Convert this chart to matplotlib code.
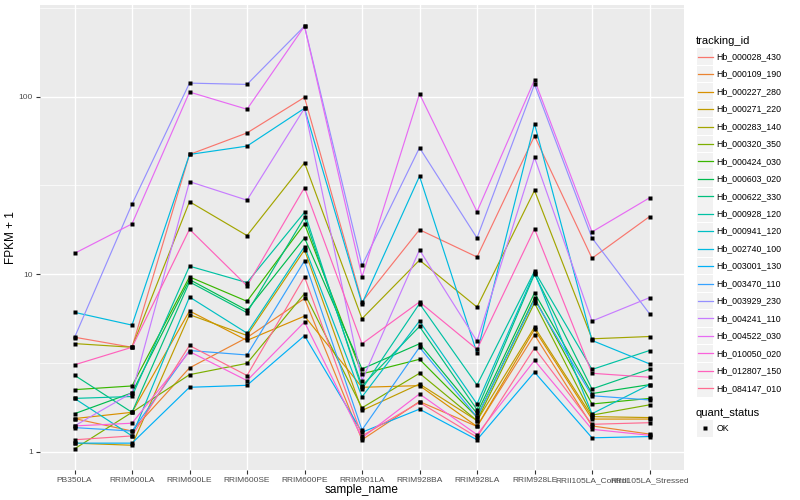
import numpy as np
import matplotlib.pyplot as plt
from matplotlib.lines import Line2D
from matplotlib.patches import Rectangle

plt.rcParams['font.family'] = ['Liberation Sans', 'DejaVu Sans']

samples = ['PB350LA', 'RRIM600LA', 'RRIM600LE', 'RRIM600SE', 'RRIM600PE',
           'RRIM901LA', 'RRIM928BA', 'RRIM928LA', 'RRIM928LE',
           'RRII105LA_Control', 'RRII105LA_Stressed']

tracking_ids = ['Hb_000028_430', 'Hb_000109_190', 'Hb_000227_280', 'Hb_000271_220',
                'Hb_000283_140', 'Hb_000320_350', 'Hb_000424_030', 'Hb_000603_020',
                'Hb_000622_330', 'Hb_000928_120', 'Hb_000941_120', 'Hb_002740_100',
                'Hb_003001_130', 'Hb_003470_110', 'Hb_003929_230', 'Hb_004241_110',
                'Hb_004522_030', 'Hb_010050_020', 'Hb_012807_150', 'Hb_084147_010']

# FPKM + 1 per sample
hb_000028_430 = [4.42, 3.88, 47.2, 62.4, 99.0, 6.98, 17.8, 12.5, 60.0, 12.3, 21.1]
hb_000109_190 = [1.54, 1.31, 2.97, 4.40, 7.30, 1.17, 1.92, 1.39, 4.56, 1.40, 1.26]
hb_000227_280 = [1.54, 1.67, 6.21, 4.24, 5.81, 2.31, 2.36, 1.39, 4.89, 1.53, 1.53]
hb_000271_220 = [1.12, 1.09, 5.92, 4.52, 13.7, 1.71, 2.41, 1.50, 5.04, 1.58, 1.56]
hb_000283_140 = [4.07, 3.88, 25.6, 16.5, 42.4, 5.62, 12.0, 6.53, 29.6, 4.33, 4.46]
hb_000320_350 = [1.04, 1.67, 2.72, 3.15, 7.78, 1.77, 2.77, 1.50, 6.89, 1.61, 1.84]
hb_000424_030 = [2.24, 2.35, 9.66, 7.04, 19.2, 2.75, 3.32, 1.57, 7.35, 1.86, 2.00]
hb_000603_020 = [1.64, 2.15, 9.33, 6.26, 16.0, 2.93, 4.06, 1.65, 7.85, 2.13, 2.39]
hb_000622_330 = [2.70, 1.67, 9.05, 6.08, 20.9, 2.35, 5.08, 1.73, 10.0, 2.26, 2.92]
hb_000928_120 = [2.00, 2.05, 11.1, 8.97, 22.3, 2.26, 6.83, 2.38, 10.4, 2.91, 3.72]
hb_000941_120 = [2.00, 1.23, 7.44, 4.66, 14.3, 2.04, 5.45, 1.86, 10.2, 1.64, 2.39]
hb_002740_100 = [6.10, 5.17, 47.2, 52.6, 85.9, 6.83, 35.6, 3.60, 70.3, 4.24, 3.13]
hb_003001_130 = [1.12, 1.12, 2.31, 2.37, 4.51, 1.29, 1.74, 1.17, 2.81, 1.20, 1.22]
hb_003470_110 = [1.37, 1.31, 3.72, 3.51, 11.9, 1.33, 3.88, 1.57, 7.19, 2.07, 1.96]
hb_003929_230 = [4.40, 24.8, 119.0, 117.0, 249.0, 11.2, 51.5, 16.0, 117.0, 16.0, 6.00]
hb_004241_110 = [1.40, 2.15, 33.2, 26.1, 85.9, 2.52, 13.7, 4.20, 45.4, 5.45, 7.38]
hb_004522_030 = [13.1, 19.2, 106.0, 84.8, 249.0, 9.66, 103.5, 22.5, 124.0, 17.3, 26.9]
hb_010050_020 = [1.40, 1.45, 3.67, 2.52, 5.38, 1.20, 2.12, 1.25, 3.27, 1.34, 1.24]
hb_012807_150 = [3.09, 3.88, 17.9, 8.60, 30.7, 4.06, 6.98, 3.78, 18.0, 2.77, 2.63]
hb_084147_010 = [1.17, 1.23, 3.97, 2.69, 9.66, 1.23, 1.90, 1.21, 3.84, 1.43, 1.46]

series = [hb_000028_430, hb_000109_190, hb_000227_280, hb_000271_220, hb_000283_140,
          hb_000320_350, hb_000424_030, hb_000603_020, hb_000622_330, hb_000928_120,
          hb_000941_120, hb_002740_100, hb_003001_130, hb_003470_110, hb_003929_230,
          hb_004241_110, hb_004522_030, hb_010050_020, hb_012807_150, hb_084147_010]

# ggplot2 default hue palette for 20 levels
colors = ['#F8766D', '#EA8331', '#D89000', '#C09B00', '#A3A500', '#7CAE00', '#39B600',
          '#00BB4E', '#00BF7D', '#00C1A3', '#00BFC4', '#00BAE0', '#00B0F6', '#35A2FF',
          '#9590FF', '#C77CFF', '#E76BF3', '#FA62DB', '#FF62BC', '#FF6C91']

fig = plt.figure(figsize=(8, 5), dpi=100)
ax = fig.add_axes([40/800, 30/500, 644/800, 465/500])
ax.set_facecolor('#EBEBEB')

x = np.arange(len(samples))
for vals, c in zip(series, colors):
    ax.plot(x, vals, color=c, lw=0.85, zorder=2)
for vals in series:
    ax.plot(x, vals, 's', color='black', ms=3.0, zorder=3, mec='none')

ax.set_yscale('log')
allv = np.log10(np.concatenate([np.array(s) for s in series]))
lo, hi = allv.min(), allv.max()
pad = (hi - lo) * 0.05
ax.set_ylim(10**(lo - pad), 10**(hi + pad))
ax.set_xlim(-0.6, len(samples) - 0.4)

ax.set_yticks([1, 10, 100])
ax.set_yticklabels(['1', '10', '100'])
ax.yaxis.set_minor_locator(plt.FixedLocator([10**0.5, 10**1.5, 10**2.5]))
ax.yaxis.set_minor_formatter(plt.NullFormatter())
ax.set_xticks(x)
ax.set_xticklabels(samples)
ax.tick_params(axis='both', which='major', length=3, width=0.8, color='#333333',
               labelsize=6, labelcolor='#4D4D4D', pad=2)
ax.tick_params(axis='y', which='minor', length=0)
ax.grid(True, which='major', color='white', lw=1.0, zorder=0)
ax.grid(True, which='minor', axis='y', color='white', lw=0.5, zorder=0)
ax.set_axisbelow(True)
for s in ax.spines.values():
    s.set_visible(False)

ax.set_xlabel('sample_name', fontsize=8.5, labelpad=0)
ax.set_ylabel('FPKM + 1', fontsize=8.5, labelpad=1)

# legend drawn by hand, ggplot style
def fx(px):
    return px / 800

def fy(py):
    return 1 - py / 500

fig.text(fx(696), fy(40.5), 'tracking_id', fontsize=8, va='center', ha='left')
for i, (tid, c) in enumerate(zip(tracking_ids, colors)):
    yc = 56.7 + i * 17.45
    fig.patches.append(Rectangle((fx(696.5), fy(yc + 8.3)), fx(16.5), 16.6 / 500,
                                 transform=fig.transFigure, facecolor='#F2F2F2',
                                 edgecolor='none'))
    fig.lines.append(Line2D([fx(698), fx(713)], [fy(yc), fy(yc)], color=c, lw=0.9,
                            transform=fig.transFigure))
    fig.text(fx(716.5), fy(yc), tid, fontsize=6.3, va='center', ha='left')

fig.text(fx(696), fy(412.5), 'quant_status', fontsize=8, va='center', ha='left')
fig.patches.append(Rectangle((fx(696.5), fy(428.3 + 8.3)), fx(16.5), 16.6 / 500,
                             transform=fig.transFigure, facecolor='#F2F2F2',
                             edgecolor='none'))
fig.lines.append(Line2D([fx(705)], [fy(428.3)], marker='s', color='black', ms=3.0,
                        mec='none', transform=fig.transFigure))
fig.text(fx(716.5), fy(428.3), 'OK', fontsize=6.3, va='center', ha='left')

fig.savefig('out.png', dpi=100)
